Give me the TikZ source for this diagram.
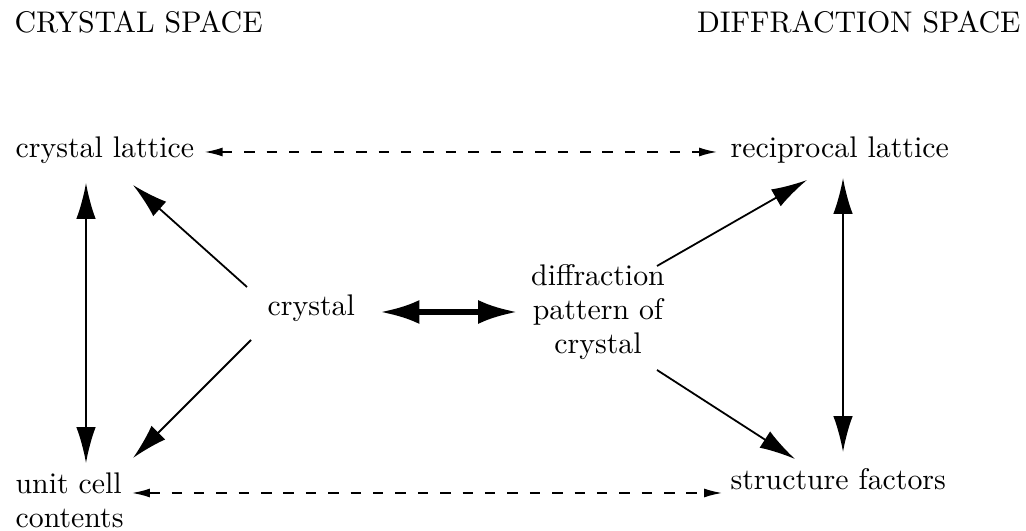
\documentclass[tikz,border=0pt]{standalone}
\usetikzlibrary{arrows.meta,calc}
\begin{document}
\begin{tikzpicture}[x=0.335pt,y=-0.335pt,
  lbl/.style={inner sep=0pt, font=\fontsize{10}{11.4}\selectfont},
  thinarr/.style={line width=0.6pt, {Latex[length=12pt,width=6.5pt]}-{Latex[length=12pt,width=6.5pt]}},
  onearr/.style={line width=0.6pt, -{Latex[length=12pt,width=6.5pt]}},
  bigarr/.style={line width=1.7pt, {Latex[length=13pt,width=8pt]}-{Latex[length=13pt,width=8pt]}},
  dasharr/.style={line width=0.5pt, dash pattern=on 3.5pt off 4pt, {Latex[length=6pt,width=3pt]}-{Latex[length=6pt,width=3pt]}}]
\useasboundingbox (0,0) rectangle (1026,531);
% headers
\node[lbl, anchor=base west] (hcs) at (14,33) {CRYSTAL SPACE};
\node[lbl, anchor=base east] (hds) at (1021,33) {DIFFRACTION SPACE};
% nodes
\node[lbl, anchor=base west] (cl) at (15,158) {crystal lattice};
\node[lbl, anchor=base west] (rl) at (730,158) {reciprocal lattice};
\node[lbl, anchor=base west] (cr) at (267,316) {crystal};
\node[lbl, align=center] (dp) at (598,312) {diffraction\\pattern of\\crystal};
\node[lbl, anchor=north west, align=left] (uc) at (15,472) {unit cell\\contents};
\node[lbl, anchor=base west] (sf) at (730,490) {structure factors};
% dashed connectors
\draw[dasharr] ([shift={(10,-6)}]cl.base east) -- ([shift={(-13,-6)}]rl.base west);
\draw[dasharr] ([shift={(117,21)}]uc.north west) -- ([shift={(-8,3)}]sf.base west);
% vertical connectors
\draw[thinarr] ([shift={(71,25)}]cl.base west) -- ([shift={(71,-9)}]uc.north west);
\draw[thinarr] ([shift={(113,20)}]rl.base west) -- ([shift={(113,-38)}]sf.base west);
% crystal connectors
\draw[onearr] ([shift={(-20,-29)}]cr.base west) -- ([shift={(118,27)}]cl.base west);
\draw[onearr] ([shift={(-16,24)}]cr.base west) -- ([shift={(118,-14)}]uc.north west);
\draw[bigarr] ([shift={(25,-4)}]cr.base east) -- ([shift={(-81,0)}]dp.center);
% diffraction connectors
\draw[onearr] ([shift={(59,-46)}]dp.center) -- ([shift={(77,22)}]rl.base west);
\draw[onearr] ([shift={(59,58)}]dp.center) -- ([shift={(65,-31)}]sf.base west);
\end{tikzpicture}
\end{document}
